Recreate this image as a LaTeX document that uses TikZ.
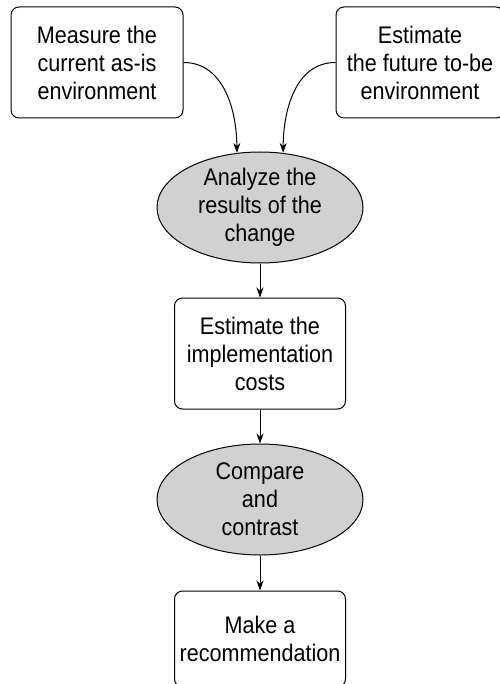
\documentclass[tikz,border=0pt]{standalone}
\usepackage{fontspec}
\setmainfont{Liberation Sans}[FakeStretch=0.9]
\usepackage{tikz}
\usetikzlibrary{shapes.geometric, arrows.meta}
\tikzset{
	process/.style={rectangle, rounded corners=8pt, minimum width=171pt, minimum height=111pt, text centered, align=center, draw=black, line width=1pt, font=\fontsize{24}{28}\selectfont},
	decision/.style={ellipse, minimum width=206pt, minimum height=111pt, inner sep=0pt, text centered, align=center, draw=black, line width=1pt, fill=black!18, font=\fontsize{24}{28}\selectfont},
	arrow/.style={line width=1pt,-{Stealth[length=10pt,width=7pt]}}
}
\usetikzlibrary{positioning}

\begin{document}
\begin{tikzpicture}[x=1pt, y=-1pt, node distance=34pt]
		\useasboundingbox (0,0) rectangle (499,684);
		
		% Nodes
		\node (measure) [process, minimum width=172pt] at (97,62.5) {Measure the\\current as-is\\environment};
		\node (future) [process, minimum width=168pt] at (420,62.5) {Estimate\\the future to-be\\environment};
		\node (analyze) [decision] at (260,207.5) {Analyze the\\results of the\\change};
		\node (costs) [process, below=of analyze] {Estimate the\\implementation\\costs};
		\node (compare) [decision, below=of costs] {Compare\\and\\contrast};
		\node (recommend) [process, minimum height=96pt, below=35pt of compare] {Make a\\recommendation};
		
		% Arrows
		\draw [arrow] (measure.east) to[out=0, in=90] (analyze.113);
		\draw [arrow] (future.west) to[out=180, in=90] (analyze.67);
		\draw [arrow] (analyze) -- (costs);
		\draw [arrow] (costs) -- (compare);
		\draw [arrow] (compare) -- (recommend);
		
	\end{tikzpicture}
\end{document}
